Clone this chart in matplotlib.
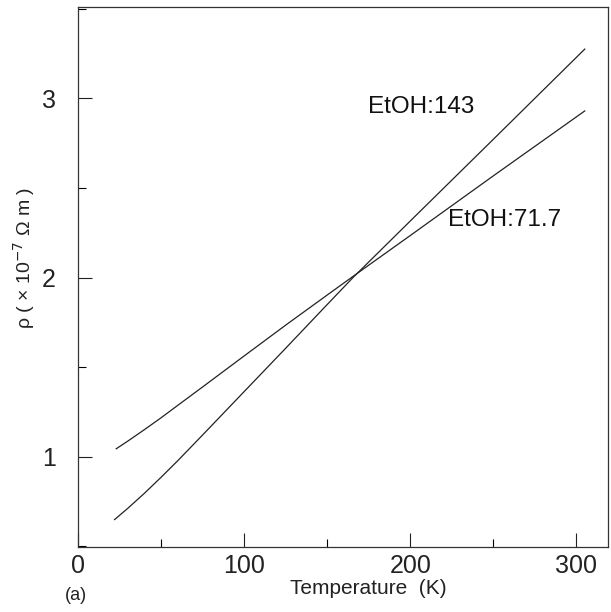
import matplotlib
matplotlib.use("Agg")
import matplotlib.pyplot as plt
from matplotlib.ticker import MultipleLocator

plt.rcParams['font.family'] = ['Liberation Sans', 'DejaVu Sans']

# Data
T_143 = [22, 30, 40, 50, 60, 75, 100, 125, 150, 166, 200, 250, 305]
rho_143 = [0.65, 0.713, 0.797, 0.886, 0.978, 1.122, 1.364, 1.606, 1.85, 2.005, 2.316, 2.772, 3.275]
T_717 = [23, 30, 40, 50, 60, 75, 100, 125, 150, 166, 200, 250, 305]
rho_717 = [1.045, 1.088, 1.152, 1.218, 1.287, 1.39, 1.563, 1.735, 1.903, 2.01, 2.235, 2.568, 2.93]

labels = ["EtOH:143", "EtOH:71.7"]
xticks = [0, 100, 200, 300]
yticks = [1, 2, 3]

fig = plt.figure(figsize=(6.11, 6.12), dpi=100)
ax = fig.add_axes([78/611, 1-547/612, (608-78)/611, (547-7)/612])

ax.plot(T_143, rho_143, color='#222222', lw=0.9)
ax.plot(T_717, rho_717, color='#222222', lw=0.9)

ax.set_xlim(0, 319)
ax.set_ylim(0.497, 3.51)
ax.set_xticks(xticks)
ax.set_yticks(yticks)
ax.xaxis.set_minor_locator(MultipleLocator(50))
ax.yaxis.set_minor_locator(MultipleLocator(0.5))
ax.tick_params(which='major', direction='in', length=10, width=0.8,
               labelsize=18, colors='#222222')
ax.tick_params(which='minor', direction='in', length=6, width=0.8)
ax.tick_params(axis='y', pad=16)
ax.tick_params(axis='x', pad=5)
for s in ax.spines.values():
    s.set_linewidth(0.9)
    s.set_color('#333333')

fig.text(368/611, 1-107/612, labels[0], fontsize=17.5, va='center', ha='left', color='#111111')
fig.text(448/611, 1-220/612, labels[1], fontsize=17.5, va='center', ha='left', color='#111111')

ax.set_ylabel("ρ ( × 10$^{-7}$ Ω m )", fontsize=14, color='#222222')
ax.yaxis.set_label_coords(-0.077, 0.535)

fig.text(368/611, 1-589/612, "Temperature  (K)", fontsize=15, ha='center', va='center', color='#222222')
fig.text(76/611, 1-595/612, "(a)", fontsize=13, ha='center', va='center', color='#222222')

fig.savefig("out.png", dpi=100)
